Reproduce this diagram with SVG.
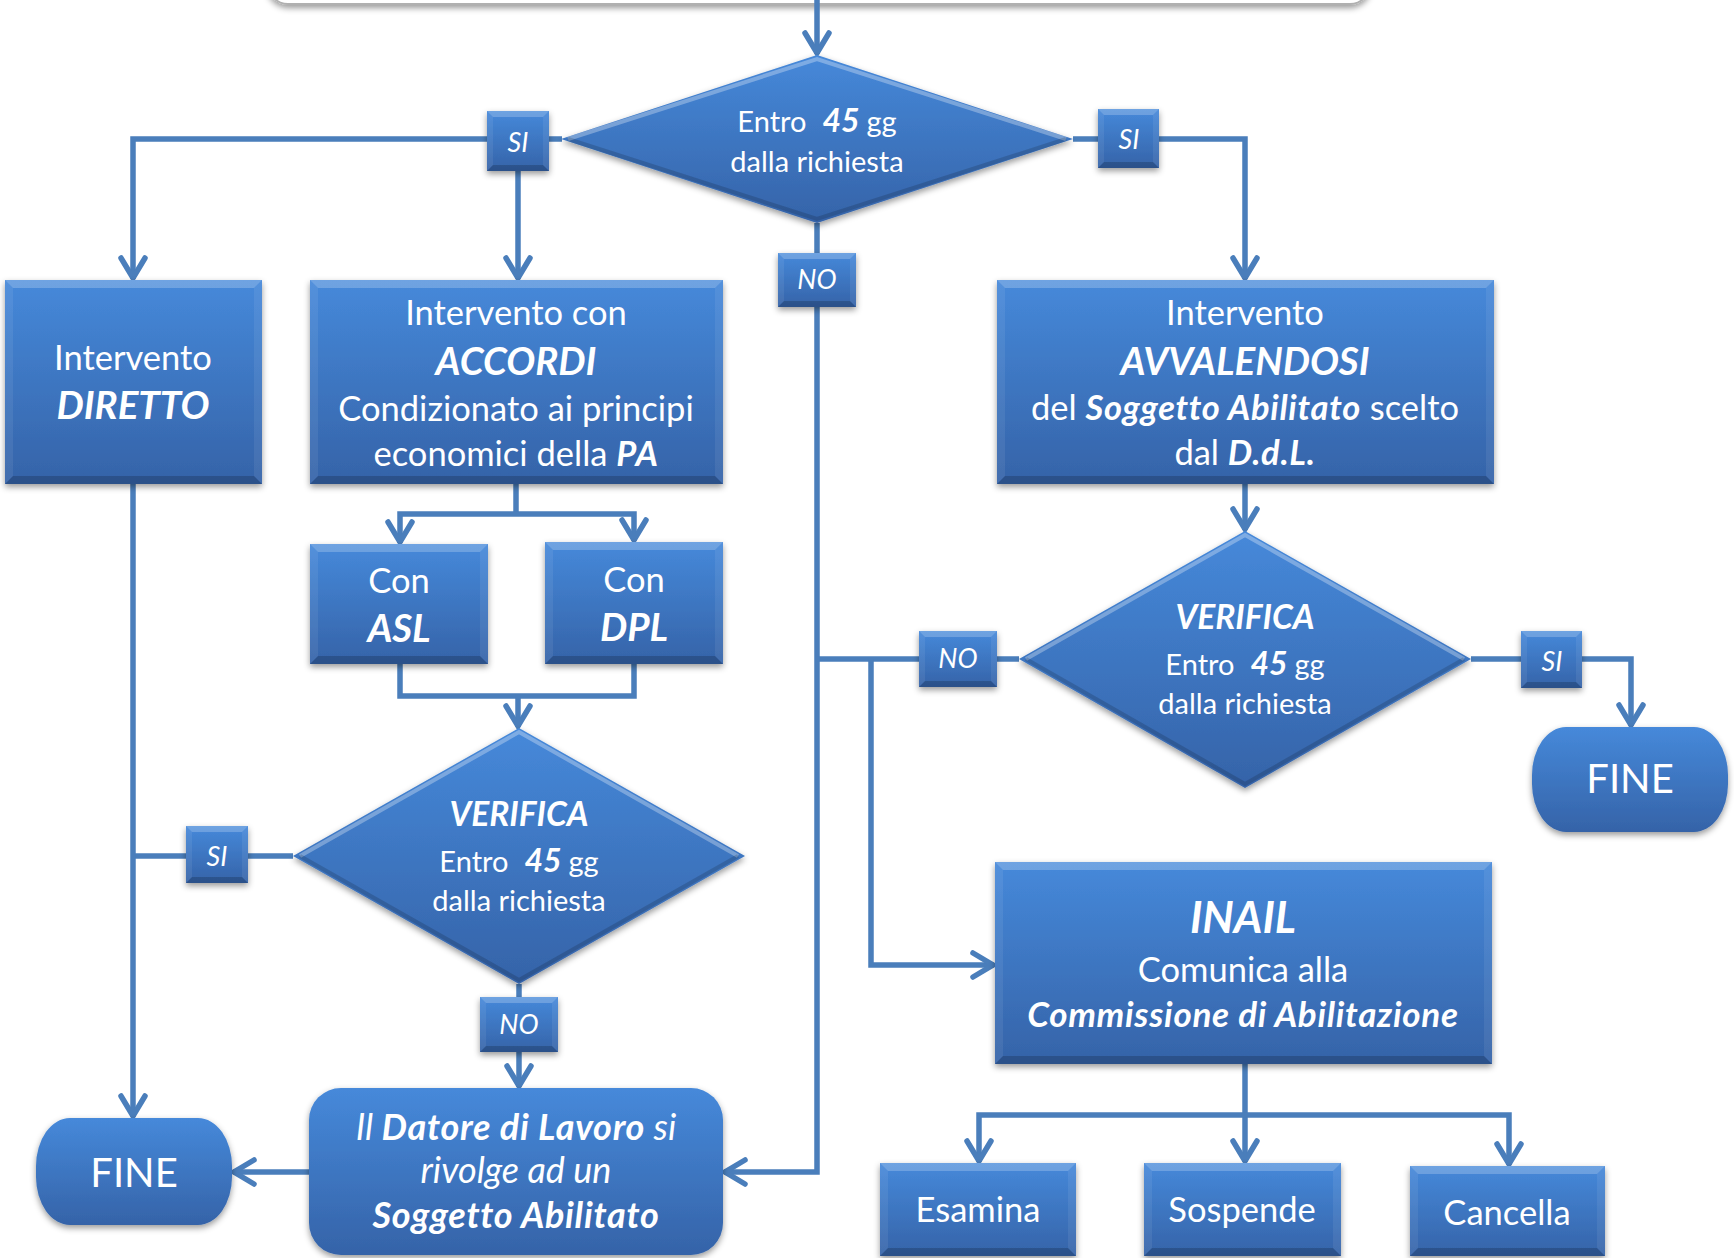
<svg xmlns="http://www.w3.org/2000/svg" width="1734" height="1258" viewBox="0 0 1734 1258">
<defs>
<linearGradient id="gBox" x1="0" y1="0" x2="0" y2="1">
<stop offset="0" stop-color="#4689da"/>
<stop offset="1" stop-color="#3563a8"/>
</linearGradient>
<filter id="sh" x="-10%" y="-10%" width="120%" height="130%">
<feDropShadow dx="0" dy="3" stdDeviation="3" flood-color="#000" flood-opacity="0.4"/>
</filter>
<marker id="arr" markerUnits="userSpaceOnUse" viewBox="-26 -16 30 32" markerWidth="30" markerHeight="32" refX="0" refY="0" orient="auto">
<path d="M -21 -12 L -1 0 L -21 12" fill="none" stroke="#4a7ebb" stroke-width="5.5" stroke-linejoin="miter" stroke-linecap="round"/>
</marker>
<style>
.n{fill:url(#gBox);filter:url(#sh)}
.bt{fill:#ffffff;fill-opacity:0.22}
.bb{fill:#000000;fill-opacity:0.18}
.bs{fill:#ffffff;fill-opacity:0.07}
.hl{fill:none;stroke:#ffffff;stroke-opacity:0.3;stroke-width:4}
.dk{fill:none;stroke:#000000;stroke-opacity:0.15;stroke-width:4}
.c{fill:none;stroke:#4a7ebb;stroke-width:5.5}
.ca{fill:none;stroke:#4a7ebb;stroke-width:5.5;marker-end:url(#arr)}
text{font-family:Lato,"Liberation Sans",sans-serif;fill:#ffffff;text-anchor:middle}
.t{font-size:34.5px}
.h{font-size:38.5px;font-weight:bold;font-style:italic}
.td{font-size:29px}
.tl{font-size:27px;font-style:italic}
.tf{font-size:40px}
.tv{font-size:33.5px;font-weight:bold;font-style:italic}
.n45{font-size:32px;font-weight:bold;font-style:italic}
.bi{font-weight:bold;font-style:italic}
.bx{font-weight:bold;font-style:italic;letter-spacing:0.7px}
.i{font-style:italic}
.dt{font-size:36px;font-style:italic}
</style>
</defs>

<g id="top-box">
<rect x="268" y="-60" width="1102" height="64" rx="20" fill="#ffffff" stroke="#b0b0b0" stroke-width="2" filter="url(#sh)"/>
</g>

<g id="connectors">
<path class="ca" d="M817,0 V54"/>
<path class="ca" d="M562,139 H133 V279"/>
<path class="ca" d="M518,171 V279"/>
<path class="ca" d="M1073,139 H1245 V279"/>
<path class="ca" d="M817,223 V1172 H724"/>
<path class="c" d="M817,659 H1019"/>
<path class="ca" d="M871,659 V965 H994"/>
<path class="c" d="M516,484 V514"/>
<path class="ca" d="M516,514 H400 V543"/>
<path class="ca" d="M516,514 H634 V541"/>
<path class="c" d="M400,664 V696 H634 V664"/>
<path class="ca" d="M518,696 V727"/>
<path class="c" d="M293,856 H133"/>
<path class="ca" d="M133,484 V1117"/>
<path class="ca" d="M519,984 V1087"/>
<path class="ca" d="M309,1172 H233"/>
<path class="ca" d="M1245,484 V530"/>
<path class="ca" d="M1471,659 H1631 V726"/>
<path class="ca" d="M1245,1064 V1162"/>
<path class="ca" d="M1245,1115 H979 V1162"/>
<path class="ca" d="M1245,1115 H1509 V1165"/>
</g>

<g id="decision-main">
<polygon class="n" points="817,55 1073,139 817,223 561,139"/>
<polyline class="hl" points="568,139 817,59 1066,139"/>
<polyline class="dk" points="568,139 817,219 1066,139"/>
<text class="td" x="817" y="132">Entro<tspan class="n45" dx="16">45</tspan><tspan dx="7">gg</tspan></text>
<text class="td" x="817" y="172">dalla richiesta</text>
</g>

<g id="label-si-1">
<rect class="n" x="487" y="111" width="62" height="60"/>
<polygon class="bt" points="487,111 549,111 543,117 493,117"/>
<polygon class="bb" points="487,171 549,171 543,165 493,165"/>
<polygon class="bs" points="487,111 493,117 493,165 487,171"/>
<polygon class="bs" points="549,111 543,117 543,165 549,171"/>
<text class="tl" x="518" y="152">SI</text>
</g>

<g id="label-si-2">
<rect class="n" x="1098" y="109" width="61" height="59"/>
<polygon class="bt" points="1098,109 1159,109 1153,115 1104,115"/>
<polygon class="bb" points="1098,168 1159,168 1153,162 1104,162"/>
<polygon class="bs" points="1098,109 1104,115 1104,162 1098,168"/>
<polygon class="bs" points="1159,109 1153,115 1153,162 1159,168"/>
<text class="tl" x="1129" y="149">SI</text>
</g>

<g id="label-no-main">
<rect class="n" x="778" y="253" width="78" height="54"/>
<polygon class="bt" points="778,253 856,253 850,259 784,259"/>
<polygon class="bb" points="778,307 856,307 850,301 784,301"/>
<polygon class="bs" points="778,253 784,259 784,301 778,307"/>
<polygon class="bs" points="856,253 850,259 850,301 856,307"/>
<text class="tl" x="817" y="289">NO</text>
</g>

<g id="box-diretto">
<rect class="n" x="5" y="280" width="257" height="204"/>
<polygon class="bt" points="5,280 262,280 254,288 13,288"/>
<polygon class="bb" points="5,484 262,484 254,476 13,476"/>
<polygon class="bs" points="5,280 13,288 13,476 5,484"/>
<polygon class="bs" points="262,280 254,288 254,476 262,484"/>
<text class="t" x="133" y="370">Intervento</text>
<text class="h" x="133" y="419">DIRETTO</text>
</g>

<g id="box-accordi">
<rect class="n" x="310" y="280" width="413" height="204"/>
<polygon class="bt" points="310,280 723,280 715,288 318,288"/>
<polygon class="bb" points="310,484 723,484 715,476 318,476"/>
<polygon class="bs" points="310,280 318,288 318,476 310,484"/>
<polygon class="bs" points="723,280 715,288 715,476 723,484"/>
<text class="t" x="516" y="325">Intervento con</text>
<text class="h" x="516" y="375">ACCORDI</text>
<text class="t" x="516" y="421">Condizionato ai principi</text>
<text class="t" x="516" y="466">economici della <tspan class="bx">PA</tspan></text>
</g>

<g id="box-avvalendosi">
<rect class="n" x="997" y="280" width="497" height="204"/>
<polygon class="bt" points="997,280 1494,280 1486,288 1005,288"/>
<polygon class="bb" points="997,484 1494,484 1486,476 1005,476"/>
<polygon class="bs" points="997,280 1005,288 1005,476 997,484"/>
<polygon class="bs" points="1494,280 1486,288 1486,476 1494,484"/>
<text class="t" x="1245" y="325">Intervento</text>
<text class="h" x="1245" y="375">AVVALENDOSI</text>
<text class="t" x="1245" y="420">del <tspan class="bx">Soggetto Abilitato</tspan> scelto</text>
<text class="t" x="1245" y="465">dal <tspan class="bx">D.d.L.</tspan></text>
</g>

<g id="box-asl">
<rect class="n" x="310" y="544" width="178" height="120"/>
<polygon class="bt" points="310,544 488,544 480,552 318,552"/>
<polygon class="bb" points="310,664 488,664 480,656 318,656"/>
<polygon class="bs" points="310,544 318,552 318,656 310,664"/>
<polygon class="bs" points="488,544 480,552 480,656 488,664"/>
<text class="t" x="399" y="593">Con</text>
<text class="h" x="399" y="642">ASL</text>
</g>

<g id="box-dpl">
<rect class="n" x="545" y="542" width="178" height="122"/>
<polygon class="bt" points="545,542 723,542 715,550 553,550"/>
<polygon class="bb" points="545,664 723,664 715,656 553,656"/>
<polygon class="bs" points="545,542 553,550 553,656 545,664"/>
<polygon class="bs" points="723,542 715,550 715,656 723,664"/>
<text class="t" x="634" y="592">Con</text>
<text class="h" x="634" y="641">DPL</text>
</g>

<g id="decision-verifica-1">
<polygon class="n" points="519,728 745,856 519,984 293,856"/>
<polyline class="hl" points="300,856 519,732 738,856"/>
<polyline class="dk" points="300,856 519,980 738,856"/>
<text class="tv" x="519" y="826">VERIFICA</text>
<text class="td" x="519" y="872">Entro<tspan class="n45" dx="16">45</tspan><tspan dx="7">gg</tspan></text>
<text class="td" x="519" y="911">dalla richiesta</text>
</g>

<g id="label-si-3">
<rect class="n" x="186" y="826" width="62" height="57"/>
<polygon class="bt" points="186,826 248,826 242,832 192,832"/>
<polygon class="bb" points="186,883 248,883 242,877 192,877"/>
<polygon class="bs" points="186,826 192,832 192,877 186,883"/>
<polygon class="bs" points="248,826 242,832 242,877 248,883"/>
<text class="tl" x="217" y="866">SI</text>
</g>

<g id="label-no-2">
<rect class="n" x="480" y="997" width="78" height="55"/>
<polygon class="bt" points="480,997 558,997 552,1003 486,1003"/>
<polygon class="bb" points="480,1052 558,1052 552,1046 486,1046"/>
<polygon class="bs" points="480,997 486,1003 486,1046 480,1052"/>
<polygon class="bs" points="558,997 552,1003 552,1046 558,1052"/>
<text class="tl" x="519" y="1034">NO</text>
</g>

<g id="box-datore">
<rect class="n" x="309" y="1088" width="414" height="167" rx="32" ry="32"/>
<text class="dt" x="516" y="1140">Il <tspan class="bx">Datore di Lavoro</tspan> si</text>
<text class="dt" x="516" y="1183">rivolge ad un</text>
<text class="dt bx" x="516" y="1228">Soggetto Abilitato</text>
</g>

<g id="end-fine-1">
<rect class="n" x="36" y="1118" width="196" height="107" rx="34" ry="48"/>
<text class="tf" x="134" y="1187">FINE</text>
</g>

<g id="decision-verifica-2">
<polygon class="n" points="1245,531 1471,659 1245,788 1019,659"/>
<polyline class="hl" points="1026,659 1245,535 1464,659"/>
<polyline class="dk" points="1026,659 1245,784 1464,659"/>
<text class="tv" x="1245" y="629">VERIFICA</text>
<text class="td" x="1245" y="675">Entro<tspan class="n45" dx="16">45</tspan><tspan dx="7">gg</tspan></text>
<text class="td" x="1245" y="714">dalla richiesta</text>
</g>

<g id="label-no-3">
<rect class="n" x="919" y="631" width="78" height="56"/>
<polygon class="bt" points="919,631 997,631 991,637 925,637"/>
<polygon class="bb" points="919,687 997,687 991,681 925,681"/>
<polygon class="bs" points="919,631 925,637 925,681 919,687"/>
<polygon class="bs" points="997,631 991,637 991,681 997,687"/>
<text class="tl" x="958" y="668">NO</text>
</g>

<g id="label-si-4">
<rect class="n" x="1521" y="631" width="61" height="57"/>
<polygon class="bt" points="1521,631 1582,631 1576,637 1527,637"/>
<polygon class="bb" points="1521,688 1582,688 1576,682 1527,682"/>
<polygon class="bs" points="1521,631 1527,637 1527,682 1521,688"/>
<polygon class="bs" points="1582,631 1576,637 1576,682 1582,688"/>
<text class="tl" x="1552" y="671">SI</text>
</g>

<g id="end-fine-2">
<rect class="n" x="1532" y="727" width="196" height="105" rx="34" ry="48"/>
<text class="tf" x="1630" y="793">FINE</text>
</g>

<g id="box-inail">
<rect class="n" x="995" y="862" width="497" height="202"/>
<polygon class="bt" points="995,862 1492,862 1484,870 1003,870"/>
<polygon class="bb" points="995,1064 1492,1064 1484,1056 1003,1056"/>
<polygon class="bs" points="995,862 1003,870 1003,1056 995,1064"/>
<polygon class="bs" points="1492,862 1484,870 1484,1056 1492,1064"/>
<text class="bi" x="1243" y="933" style="font-size:44px">INAIL</text>
<text class="t" x="1243" y="982">Comunica alla</text>
<text class="t bx" x="1243" y="1027" style="font-size:35px">Commissione di Abilitazione</text>
</g>

<g id="box-esamina">
<rect class="n" x="880" y="1163" width="196" height="93"/>
<polygon class="bt" points="880,1163 1076,1163 1068,1171 888,1171"/>
<polygon class="bb" points="880,1256 1076,1256 1068,1248 888,1248"/>
<polygon class="bs" points="880,1163 888,1171 888,1248 880,1256"/>
<polygon class="bs" points="1076,1163 1068,1171 1068,1248 1076,1256"/>
<text class="t" x="978" y="1222">Esamina</text>
</g>

<g id="box-sospende">
<rect class="n" x="1144" y="1163" width="197" height="93"/>
<polygon class="bt" points="1144,1163 1341,1163 1333,1171 1152,1171"/>
<polygon class="bb" points="1144,1256 1341,1256 1333,1248 1152,1248"/>
<polygon class="bs" points="1144,1163 1152,1171 1152,1248 1144,1256"/>
<polygon class="bs" points="1341,1163 1333,1171 1333,1248 1341,1256"/>
<text class="t" x="1242" y="1222">Sospende</text>
</g>

<g id="box-cancella">
<rect class="n" x="1410" y="1166" width="195" height="90"/>
<polygon class="bt" points="1410,1166 1605,1166 1597,1174 1418,1174"/>
<polygon class="bb" points="1410,1256 1605,1256 1597,1248 1418,1248"/>
<polygon class="bs" points="1410,1166 1418,1174 1418,1248 1410,1256"/>
<polygon class="bs" points="1605,1166 1597,1174 1597,1248 1605,1256"/>
<text class="t" x="1507" y="1225">Cancella</text>
</g>
</svg>
